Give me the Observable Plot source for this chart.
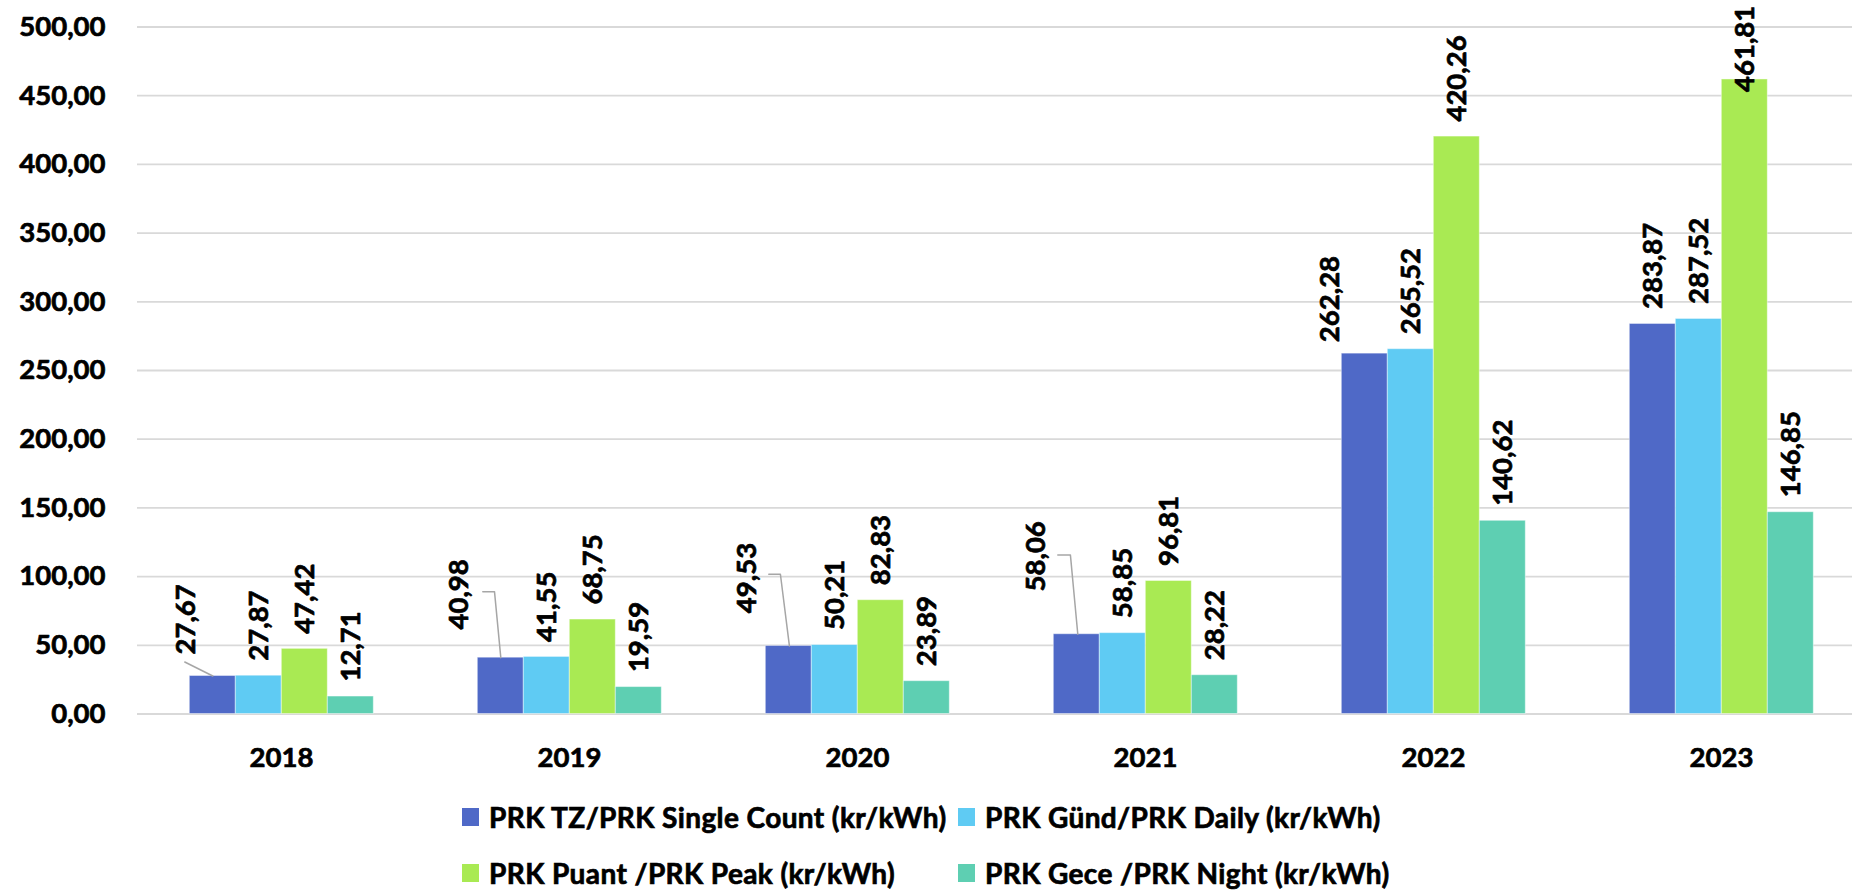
<!DOCTYPE html>
<html><head><meta charset="utf-8">
<script src="https://cdn.jsdelivr.net/npm/d3@7"></script>
<script src="https://cdn.jsdelivr.net/npm/@observablehq/plot@0.6"></script>
<style>
html,body{margin:0;padding:0;background:#fff;overflow:hidden}
body{width:1852px;height:890px;font-family:Lato,sans-serif}
#chart svg{display:block;overflow:visible}
#legend{margin-left:462px;margin-top:9px;display:grid;grid-template-columns:496px auto;grid-auto-rows:56px;align-items:center;font:bold 28px Lato,sans-serif;letter-spacing:0.4px;color:#000;white-space:nowrap;-webkit-text-stroke:0.7px #000}
#legend .item{display:flex;align-items:center}
#legend .sw{width:17px;height:18px;margin-right:10px;flex:none}
</style></head><body>
<div id="chart"></div>
<div id="legend"></div>
<script>
const years = ["2018", "2019", "2020", "2021", "2022", "2023"];
const seriesNames = [
  "PRK TZ/PRK Single Count (kr/kWh)",
  "PRK Günd/PRK Daily (kr/kWh)",
  "PRK Puant /PRK Peak (kr/kWh)",
  "PRK Gece /PRK Night (kr/kWh)"
];
const tz    = [27.67, 40.98, 49.53, 58.06, 262.28, 283.87];
const gund  = [27.87, 41.55, 50.21, 58.85, 265.52, 287.52];
const puant = [47.42, 68.75, 82.83, 96.81, 420.26, 461.81];
const gece  = [12.71, 19.59, 23.89, 28.22, 140.62, 146.85];
const yTicks = [0, 50, 100, 150, 200, 250, 300, 350, 400, 450, 500];

const colors = ["#4F69C7", "#5FCBF3", "#A9EA53", "#5ECFB2"];
const seriesValues = [tz, gund, puant, gece];

const table = [];
years.forEach((year, i) => seriesNames.forEach((series, j) => {
  table.push({year, series, value: seriesValues[j][i]});
}));

const fmt = v => v.toFixed(2).replace(".", ",");

// label nudges in pixels (relative to the default label spot) and leader paths
const nudges = [
  {year: "2018", s: 0, dx: -26.5, dy: -6.5,  leader: [[-28, -14], [0, 0]]},
  {year: "2019", s: 0, dx: -41.5, dy: -13.2, leader: [[-18, -66], [-6.3, -66], [0, 0]]},
  {year: "2020", s: 0, dx: -41.7, dy: -17.8, leader: [[-20, -71.7], [-8.4, -71.7], [0.6, 0]]},
  {year: "2021", s: 0, dx: -40.7, dy: -27.8, leader: [[-19, -79.3], [-6.4, -79.3], [1, 0]]},
  {year: "2022", s: 0, dx: -34.7, dy: 3.5,   leader: null},
  {year: "2023", s: 2, dx: 0,     dy: 27.5,  leader: null}
];
const isNudged = d => nudges.some(n => n.year === d.year && seriesNames[n.s] === d.series);
const pick = n => table.filter(d => d.year === n.year && d.series === seriesNames[n.s]);

const labelBase = {
  fx: "year", x: "series", y: "value", text: d => fmt(d.value),
  rotate: -90, textAnchor: "start", lineAnchor: "middle",
  fontSize: 27.5, fontWeight: "bold", fill: "#000", stroke: "#000", strokeWidth: 0.7
};
const LABEL_DY = -15;

const marks = [
  Plot.ruleY(yTicks, {stroke: "#d9d9d9", strokeWidth: 1.8}),
  Plot.barY(table, {fx: "year", x: "series", y: "value", fill: "series", stroke: "#ffffff", strokeOpacity: 0.45, strokeWidth: 1}),
  Plot.text(table.filter(d => !isNudged(d)), {...labelBase, dy: LABEL_DY})
];
for (const n of nudges) {
  const data = pick(n);
  if (n.leader) {
    const pts = n.leader;
    marks.push(Plot.vector(data, {
      fx: "year", x: "series", y: "value", anchor: "start", length: 10,
      stroke: "#a6a6a6", strokeWidth: 1.5, fill: "none",
      shape: {draw(ctx) { pts.forEach((p, k) => k ? ctx.lineTo(p[0], p[1]) : ctx.moveTo(p[0], p[1])); }}
    }));
  }
  marks.push(Plot.text(data, {...labelBase, dx: n.dx, dy: LABEL_DY + n.dy}));
}
marks.push(
  Plot.axisY({ticks: yTicks, tickSize: 0, tickPadding: 32, tickFormat: fmt, label: null, fontSize: 27.5, fontWeight: "bold", textStroke: "#000", textStrokeWidth: 0.7}),
  Plot.axisFx({anchor: "bottom", tickSize: 0, tickPadding: 33, label: null, fontSize: 27.5, fontWeight: "bold", textStroke: "#000", textStrokeWidth: 0.7})
);

const chart = Plot.plot({
  width: 1852, height: 780,
  marginTop: 26.5, marginBottom: 66.5, marginLeft: 135.7, marginRight: 0,
  style: {fontFamily: "Lato, sans-serif", fontSize: "27.5px", fontWeight: "bold", color: "#000", background: "transparent", overflow: "visible"},
  fx: {domain: years, range: [135.7, 1867.3], padding: 0, label: null},
  x: {domain: seriesNames, paddingInner: 0, paddingOuter: 1.09, axis: null},
  y: {domain: [0, 500]},
  color: {domain: seriesNames, range: colors},
  marks
});
document.getElementById("chart").append(chart);

const legend = document.getElementById("legend");
seriesNames.forEach((name, i) => {
  const item = document.createElement("div");
  item.className = "item";
  const sw = document.createElement("span");
  sw.className = "sw";
  sw.style.background = colors[i];
  const t = document.createElement("span");
  t.textContent = name;
  item.append(sw, t);
  legend.append(item);
});
</script>
</body></html>
